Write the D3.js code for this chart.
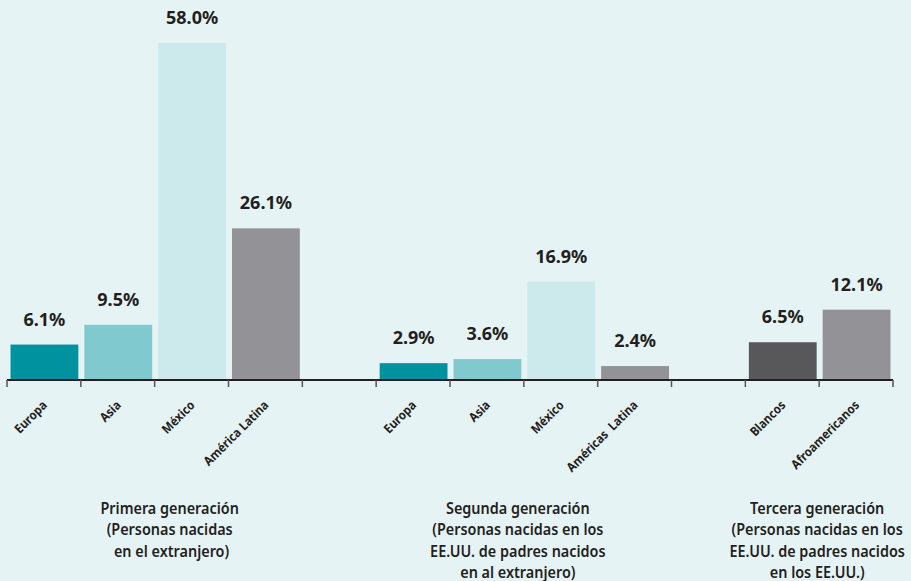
<!DOCTYPE html>
<html><head><meta charset="utf-8">
<script src="https://cdn.jsdelivr.net/npm/d3@7/dist/d3.min.js"></script>
<style>
html,body{margin:0;padding:0;background:#e6f3f4;}
svg{display:block;font-family:"Noto Sans","Open Sans",sans-serif;}
</style></head><body>
<svg id="c" width="911" height="581"></svg>
<script>
const categories = ["Europa","Asia","México","América Latina","","Europa","Asia","México","Américas  Latina","","Blancos","Afroamericanos"];
const keys = ["g1a","g1b","g1c","g1d","gap1","g2a","g2b","g2c","g2d","gap2","g3a","g3b"];
const values = [6.1,9.5,58.0,26.1,null,2.9,3.6,16.9,2.4,null,6.5,12.1];
const colors = ["#00939f","#80c9cf","#cce9ec","#939397",null,"#00939f","#80c9cf","#cce9ec","#939397",null,"#58585a","#939397"];
const groupLabels = [
  ["Primera generación","(Personas nacidas"," en el extranjero)"],
  ["Segunda generación","(Personas nacidas en los","EE.UU. de padres nacidos","en al extranjero)"],
  ["Tercera generación","(Personas nacidas en los","EE.UU. de padres nacidos","en los EE.UU.)"]
];
const groupAnchorKeys = ["g1c","g2c","g3b"];
const groupOffsets = [15, -6, -2];

const svg = d3.select("#c");
const baseY = 380;
const x = d3.scaleBand().domain(keys).range([7, 893]).padding(0);
const y = d3.scaleLinear().domain([0, 58]).range([baseY, 43]);

const data = keys.map((k,i)=>({k, cat:categories[i], v:values[i], c:colors[i]})).filter(d=>d.v!=null);

svg.selectAll("rect.bar").data(data).enter().append("rect")
  .attr("class","bar")
  .attr("x", d=>x(d.k)+3.5)
  .attr("width", x.bandwidth()-6)
  .attr("y", d=>y(d.v))
  .attr("height", d=>baseY - y(d.v))
  .attr("fill", d=>d.c);

svg.selectAll("text.val").data(data).enter().append("text")
  .attr("class","val")
  .attr("x", d=>x(d.k)+3.5+(x.bandwidth()-6)/2)
  .attr("y", d=>y(d.v)-19)
  .attr("text-anchor","middle")
  .attr("font-size",18).attr("font-weight",700).attr("fill","#231f20")
  .text(d=>d.v.toFixed(1)+"%");

const bounds = keys.map(k=>x(k)).concat([x.range()[1]]);
svg.append("line").attr("x1",7).attr("x2",893).attr("y1",baseY).attr("y2",baseY)
  .attr("stroke","#231f20").attr("stroke-width",1.8);
svg.selectAll("line.tick").data(bounds).enter().append("line")
  .attr("class","tick")
  .attr("x1",d=>d).attr("x2",d=>d).attr("y1",baseY).attr("y2",baseY+7)
  .attr("stroke","#555").attr("stroke-width",1.5);

svg.selectAll("text.cat").data(data).enter().append("text")
  .attr("class","cat")
  .attr("transform", d=>`translate(${x(d.k)+x.bandwidth()/2+4},${baseY+26}) rotate(-45) scale(0.95,1.05)`)
  .attr("text-anchor","end")
  .attr("font-size",12).attr("font-weight",700).attr("fill","#231f20")
  .style("white-space","pre")
  .text(d=>d.cat);

groupLabels.forEach((lines,gi)=>{
  const cx = x(groupAnchorKeys[gi]) + groupOffsets[gi];
  const t = svg.append("text").attr("text-anchor","middle")
    .attr("transform",`translate(${cx},0) scale(0.9,1)`)
    .attr("font-size",16).attr("font-weight",600).attr("fill","#231f20")
    .style("white-space","pre");
  lines.forEach((ln,li)=>{
    t.append("tspan").attr("x",0).attr("y",514+li*21.3).text(ln);
  });
});
</script>
</body></html>
